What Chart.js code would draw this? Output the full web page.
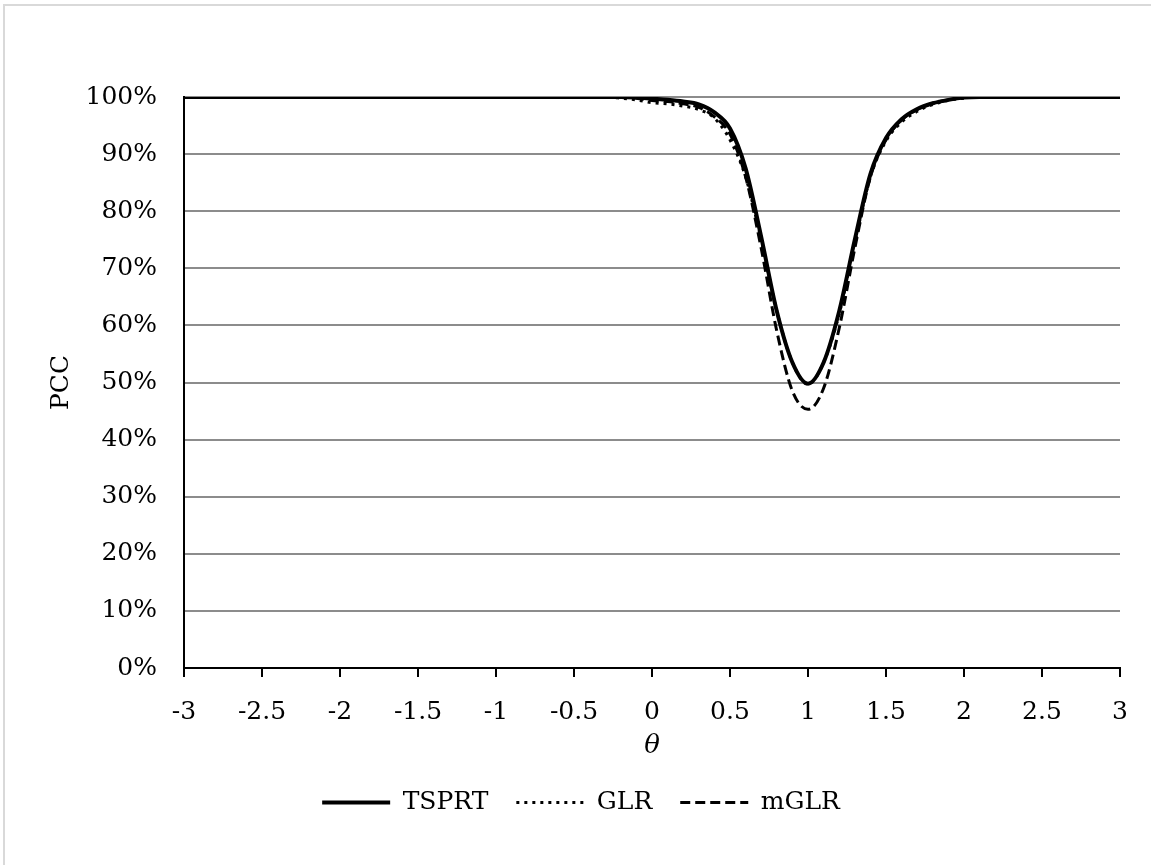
<!DOCTYPE html>
<html><head><meta charset="utf-8">
<script src="https://cdn.jsdelivr.net/npm/chart.js@4.4.0/dist/chart.umd.min.js"></script>
<style>html,body{margin:0;padding:0;background:#fff;}#wrap{width:1151px;height:865px;position:relative;}</style>
</head><body><div id="wrap"><canvas id="c" width="1151" height="865"></canvas></div>
<script>
const theta = [-3,-2.9,-2.8,-2.7,-2.6,-2.5,-2.4,-2.3,-2.2,-2.1,-2,-1.9,-1.8,-1.7,-1.6,-1.5,-1.4,-1.3,-1.2,-1.1,-1,-0.9,-0.8,-0.7,-0.6,-0.5,-0.4,-0.3,-0.2,-0.1,0,0.1,0.2,0.3,0.4,0.5,0.6,0.7,0.8,0.9,1,1.1,1.2,1.3,1.4,1.5,1.6,1.7,1.8,1.9,2,2.1,2.2,2.3,2.4,2.5,2.6,2.7,2.8,2.9,3];
const tsprt = [100,100,100,100,100,100,100,100,100,100,100,100,100,100,100,100,100,100,100,100,100,100,100,100,100,100,100,100,100,99.9,99.7,99.5,99.2,98.7,97.3,94.5,87.5,75.5,62.5,53.5,49.8,53.5,62.5,75,86.5,92.8,96.1,97.9,98.9,99.5,99.9,100,100,100,100,100,100,100,100,100,100];
const glr = [100,100,100,100,100,100,100,100,100,100,100,100,100,100,100,100,100,100,100,100,100,100,100,100,100,100,100,100,99.8,99.5,99.0,98.8,98.4,97.8,96.3,92.5,86,75,62.5,53.5,49.7,53.5,62,74.5,86,92.3,95.6,97.5,98.7,99.4,99.8,100,100,100,100,100,100,100,100,100,100];
const mglr = [100,100,100,100,100,100,100,100,100,100,100,100,100,100,100,100,100,100,100,100,100,100,100,100,100,100,100,100,100,99.8,99.4,99.2,98.8,98.2,96.5,93.5,86,73.5,59,48.5,45.3,49,59.5,73.5,86,92.5,96,97.8,98.9,99.5,99.9,100,100,100,100,100,100,100,100,100,100];
const xTicks = [-3,-2.5,-2,-1.5,-1,-0.5,0,0.5,1,1.5,2,2.5,3];
const yTicks = [0,10,20,30,40,50,60,70,80,90,100];

const FONT = "'DejaVu Serif', serif";
const pts = arr => arr.map((v,i)=>({x:theta[i], y:v}));

const frame = {
  id:'frame',
  beforeDraw(chart){
    const c = chart.ctx;
    c.save();
    c.fillStyle='#fff'; c.fillRect(0,0,chart.width,chart.height);
    c.strokeStyle='#d9d9d9'; c.lineWidth=2;
    c.strokeRect(4,5,chart.width+10,chart.height+10);
    c.restore();
  }
};

new Chart(document.getElementById('c'), {
  type: 'line',
  data: {
    datasets: [
      {label:'TSPRT', data:pts(tsprt), borderColor:'#000', backgroundColor:'#000', borderWidth:4, pointRadius:0, cubicInterpolationMode:'monotone', borderDash:[]},
      {label:'GLR', data:pts(glr), borderColor:'#000', backgroundColor:'#000', borderWidth:3, pointRadius:0, cubicInterpolationMode:'monotone', borderDash:[3,5]},
      {label:'mGLR', data:pts(mglr), borderColor:'#000', backgroundColor:'#000', borderWidth:3, pointRadius:0, cubicInterpolationMode:'monotone', borderDash:[10,5]}
    ]
  },
  plugins:[frame],
  options: {
    responsive:false, animation:false,
    layout:{padding:{top:97,left:42,right:31,bottom:40}},
    plugins:{
      legend:{position:'bottom', labels:{usePointStyle:true, pointStyle:'line', pointStyleWidth:68, boxHeight:4, color:'#000', font:{family:FONT,size:25}, padding:28,
        generateLabels(chart){
          return chart.data.datasets.map((d,i)=>({text:d.label, fillStyle:'#000', strokeStyle:'#000', lineWidth:d.borderWidth, lineDash:d.borderDash, pointStyle:'line', datasetIndex:i, hidden:false, fontColor:'#000'}));
        }}},
      tooltip:{enabled:false}
    },
    scales:{
      x:{type:'linear', min:-3, max:3,
        afterBuildTicks(ax){ax.ticks = xTicks.map(v=>({value:v}));},
        afterFit(ax){ax.height = 94;},
        ticks:{color:'#000', font:{family:FONT,size:25}, padding:20, maxRotation:0, callback:v=>String(v)},
        grid:{drawOnChartArea:false, drawTicks:true, tickLength:9, color:'#000', lineWidth:2},
        border:{display:true, color:'#000', width:2},
        title:{display:true, text:'θ', color:'#000', font:{family:FONT,size:26, style:'italic'}, padding:{top:2,bottom:0}}
      },
      y:{min:0, max:100,
        afterBuildTicks(ax){ax.ticks = yTicks.map(v=>({value:v}));},
        afterFit(ax){ax.width = 142;},
        ticks:{color:'#000', font:{family:FONT,size:25}, padding:27, callback:v=>v+'%'},
        grid:{drawTicks:false, color:'#8c8c8c', lineWidth:2},
        border:{display:true, color:'#000', width:2},
        title:{display:true, text:'PCC', color:'#000', font:{family:FONT,size:25}, padding:{bottom:0}}
      }
    }
  }
});
</script></body></html>
